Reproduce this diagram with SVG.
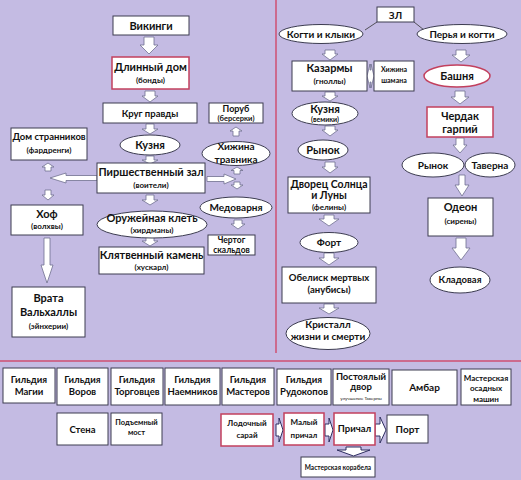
<svg xmlns="http://www.w3.org/2000/svg" width="521" height="480" viewBox="0 0 521 480">
<style>
.n{fill:#fff;stroke:#3c3c50;stroke-width:1}
.r{fill:#fff;stroke:#c2405e;stroke-width:1.5}
.a{fill:#fff;stroke:#70708f;stroke-width:0.8}
.d{fill:#fff;stroke:#2e2e60;stroke-width:1}
.div{stroke:#cf4f72;stroke-width:1.5;fill:none}
.ln{stroke:#333;stroke-width:0.8;fill:none}
text{font-family:Lato,"Open Sans","DejaVu Sans",sans-serif;font-weight:bold;fill:#111;text-anchor:middle}
.t11{font-size:11px}.t10{font-size:10px}.t9{font-size:9.5px}.t8{font-size:8px}.t7{font-size:7px}
</style>
<rect width="521" height="480" fill="#c4bbe3"/>
<g id="dividers">
<line class="div" x1="276" y1="0" x2="276" y2="353"/>
<line class="div" x1="0" y1="361" x2="521" y2="361"/>
</g>
<g id="connectors">
<polygon class="a" points="144,37 154,37 154,45 158,45 149,54 140,45 144,45"/>
<polygon class="a" points="145,91 155,91 155,96 158,96 150,102 142,96 145,96"/>
<polygon class="a" points="146,124 154,124 154,129 158,129 150,134 142,129 146,129"/>
<polygon class="a" points="146,156 154,156 154,160 158,160 150,164 142,160 146,160"/>
<polygon class="a" points="146,195 154,195 154,200 158,200 150,205 142,200 146,200"/>
<polygon class="a" points="146,237 154,237 154,241 158,241 150,246 142,241 146,241"/>
<polygon class="a" points="48,163 54,167 51,167 51,171 45,171 45,167 42,167"/>
<polygon class="a" points="45,190 51,190 51,195 54,195 48,200 42,195 45,195"/>
<polygon class="a" points="44,238 50,238 50,265 53,265 47,283 41,265 44,265"/>
<polygon class="a" points="97,175.5 66,175.5 66,173 50,178 66,183 66,180.5 97,180.5"/>
<polygon class="a" points="236,127 242,131 239,131 239,136 233,136 233,131 230,131"/>
<polygon class="a" points="237,167 243,170.5 240,170.5 240,174 234,174 234,170.5 231,170.5"/>
<polygon class="a" points="207,176.5 224,176.5 224,174 236,179 224,184 224,181.5 207,181.5"/>
<polygon class="a" points="234,182 240,182 240,185 243,185 237,189 231,185 234,185"/>
<polygon class="a" points="234,220 242,220 242,224 245,224 238,229 231,224 234,224"/>
<polygon class="a" points="325,50 335,50 335,54 338,54 330,60 322,54 325,54"/>
<polygon class="a" points="325,92 335,92 335,96 338,96 330,101 322,96 325,96"/>
<polygon class="a" points="325,126 335,126 335,130 338,130 330,136 322,130 325,130"/>
<polygon class="a" points="325,162 335,162 335,167 338,167 330,173 322,167 325,167"/>
<polygon class="a" points="324,215 334,215 334,219 339,219 329,226 319,219 324,219"/>
<polygon class="a" points="324,253 334,253 334,258 339,258 329,265 319,258 324,258"/>
<polygon class="a" points="324,304 334,304 334,308 339,308 329,314 319,308 324,308"/>
<polygon class="a" points="456,50 466,50 466,55 470,55 461,62 452,55 456,55"/>
<polygon class="a" points="455,91 465,91 465,97 469,97 460,104 451,97 455,97"/>
<polygon class="a" points="456,138 464,138 464,145 467,145 460,153 453,145 456,145"/>
<polygon class="a" points="459,175 465,175 465,185 469,185 462,196 455,185 459,185"/>
<polygon class="a" points="456,238 466,238 466,248 470,248 461,260 452,248 456,248"/>
<line class="ln" x1="377" y1="22" x2="365" y2="30"/>
<line class="ln" x1="414" y1="22" x2="424" y2="30"/>
<polygon class="a" points="367,76 370,64 370,70 371,70 371,64 374,76 371,88 371,82 370,82 370,88"/>
<polygon class="d" points="276,424 279,424 279,418 283,430 279,442 279,436 276,436"/>
<polygon class="d" points="325,424 329,424 329,418 333,430 329,442 329,436 325,436"/>
<polygon class="d" points="375,424 380,424 380,417 386,430 380,443 380,436 375,436"/>
<polygon class="d" points="346,447 361,447 361,450 370,450 353.5,456 337,450 346,450"/>
</g>
<g id="vikingi"><rect class="n" x="113" y="16" width="76" height="19"/><text class="t11" x="151" y="29.5">Викинги</text></g>
<g id="dlinnyi-dom"><rect class="r" x="112" y="57" width="77" height="32"/><text class="t11" x="150.5" y="71">Длинный дом</text><text class="t8" x="150.5" y="83">(бонды)</text></g>
<g id="krug-pravdy"><rect class="n" x="103" y="103" width="94" height="20"/><text class="t9" x="150" y="116.5">Круг правды</text></g>
<g id="kuznya-l"><ellipse class="n" cx="150" cy="145" rx="30" ry="10"/><text class="t11" x="150" y="149">Кузня</text></g>
<g id="pirshestvennyi"><rect class="n" x="97" y="163" width="108" height="30"/><text class="t11" x="151" y="175.5">Пиршественный зал</text><text class="t8" x="151" y="188">(воители)</text></g>
<g id="oruzheinaya"><ellipse class="n" cx="152" cy="224.5" rx="55" ry="13.5"/><text class="t11" x="152" y="222">Оружейная клеть</text><text class="t8" x="152" y="232.5">(хирдманы)</text></g>
<g id="klyatvennyi"><rect class="n" x="99" y="247" width="105" height="27"/><text class="t11" x="151.5" y="259">Клятвенный камень</text><text class="t8" x="151.5" y="270">(хускарл)</text></g>
<g id="dom-strannikov"><rect class="n" x="11" y="128" width="76" height="32"/><text class="t9" x="49" y="140">Дом странников</text><text class="t8" x="49" y="153">(фардренги)</text></g>
<g id="hof"><rect class="n" x="11" y="205" width="72" height="30"/><text class="t11" x="47" y="218">Хоф</text><text class="t8" x="47" y="229">(волхвы)</text></g>
<g id="vrata"><rect class="n" x="12" y="287" width="73" height="50"/><text class="t11" x="48.5" y="301.5">Врата</text><text class="t11" x="48.5" y="315.5">Вальхаллы</text><text class="t8" x="48.5" y="329">(эйнхерии)</text></g>
<g id="porub"><rect class="n" x="209" y="103" width="54" height="20"/><text x="236" y="111.5" style="font-size:9px">Поруб</text><text x="236" y="120.5" style="font-size:7.5px">(берсерки)</text></g>
<g id="hizhina-travnika"><ellipse class="n" cx="236" cy="153.5" rx="34" ry="12"/><text class="t10" x="236" y="149.5">Хижина</text><text class="t10" x="236" y="162.5">травника</text></g>
<g id="medovarnya"><ellipse class="n" cx="236" cy="207.5" rx="36" ry="10.5"/><text class="t10" x="236" y="211">Медоварня</text></g>
<g id="chertog"><rect class="n" x="208" y="235" width="47" height="20"/><text x="231.5" y="243" style="font-size:8.5px">Чертог</text><text x="231.5" y="252.5" style="font-size:8.5px">скальдов</text></g>
<g id="zl"><rect class="n" x="377" y="7" width="37" height="15"/><text class="t10" x="395.5" y="18.5">ЗЛ</text></g>
<g id="kogti-klyki"><ellipse class="n" cx="321" cy="34" rx="42" ry="9.5"/><text class="t10" x="321" y="37.5">Когти и клыки</text></g>
<g id="perya-kogti"><ellipse class="n" cx="462" cy="34" rx="45" ry="9.5"/><text class="t10" x="462" y="37.5">Перья и когти</text></g>
<g id="kazarmy"><rect class="n" x="292" y="61" width="75" height="30"/><text class="t11" x="329.5" y="72">Казармы</text><text class="t8" x="329.5" y="84">(гноллы)</text></g>
<g id="hizhina-shamana"><rect class="n" x="374" y="61" width="40" height="30"/><text class="t7" x="394" y="72">Хижина</text><text class="t7" x="394" y="82.5">шамана</text></g>
<g id="kuznya-r"><ellipse class="n" cx="325" cy="113.5" rx="33" ry="11.5"/><text class="t11" x="325" y="112.5">Кузня</text><text class="t7" x="325" y="121.5">(вемики)</text></g>
<g id="rynok-l"><ellipse class="n" cx="323" cy="150" rx="25" ry="10"/><text class="t11" x="323" y="154">Рынок</text></g>
<g id="dvorets"><rect class="n" x="288" y="177" width="82" height="36"/><text x="329" y="188" style="font-size:10.5px">Дворец Солнца</text><text x="329" y="199" style="font-size:10.5px">и Луны</text><text class="t8" x="329" y="209.5">(фелины)</text></g>
<g id="fort"><ellipse class="n" cx="329" cy="242.5" rx="29" ry="10"/><text class="t10" x="329" y="246">Форт</text></g>
<g id="obelisk"><rect class="n" x="282" y="267" width="94" height="36"/><text class="t9" x="329" y="281">Обелиск мертвых</text><text class="t9" x="329" y="293">(анубисы)</text></g>
<g id="kristall"><ellipse class="n" cx="328" cy="333.5" rx="42" ry="16"/><text class="t10" x="328" y="327.5">Кристалл</text><text class="t10" x="328" y="339.5">жизни и смерти</text></g>
<g id="bashnya"><ellipse class="r" cx="457" cy="76" rx="33" ry="11"/><text class="t11" x="457" y="79.5">Башня</text></g>
<g id="cherdak"><rect class="r" x="427" y="107" width="66" height="30"/><text class="t11" x="460" y="120">Чердак</text><text class="t11" x="460" y="132.5">гарпий</text></g>
<g id="rynok-r"><ellipse class="n" cx="433" cy="165" rx="31" ry="12"/><text class="t10" x="433" y="168.5">Рынок</text></g>
<g id="taverna"><ellipse class="n" cx="490" cy="165" rx="25" ry="12"/><text class="t10" x="490" y="168.5">Таверна</text></g>
<g id="odeon"><rect class="n" x="428" y="198" width="65" height="38"/><text class="t11" x="460.5" y="211">Одеон</text><text class="t8" x="460.5" y="224">(сирены)</text></g>
<g id="kladovaya"><ellipse class="n" cx="460" cy="280" rx="30" ry="13"/><text class="t9" x="460" y="283">Кладовая</text></g>
<g id="g-magii"><rect class="n" x="3" y="368" width="52" height="35"/><text class="t9" x="29" y="383">Гильдия</text><text class="t9" x="29" y="394.5">Магии</text></g>
<g id="g-vorov"><rect class="n" x="57" y="368" width="51" height="37"/><text class="t9" x="82.5" y="383">Гильдия</text><text class="t9" x="82.5" y="394.5">Воров</text></g>
<g id="g-torgovtsev"><rect class="n" x="111" y="368" width="52" height="37"/><text class="t9" x="137" y="383">Гильдия</text><text class="t9" x="137" y="394.5">Торговцев</text></g>
<g id="g-naemnikov"><rect class="n" x="165" y="368" width="55" height="37"/><text class="t9" x="192.5" y="383">Гильдия</text><text class="t9" x="192.5" y="394.5">Наемников</text></g>
<g id="g-masterov"><rect class="n" x="222" y="368" width="52" height="37"/><text class="t9" x="248" y="383">Гильдия</text><text class="t9" x="248" y="394.5">Мастеров</text></g>
<g id="g-rudokopov"><rect class="n" x="277" y="369" width="54" height="36"/><text class="t9" x="304" y="383">Гильдия</text><text class="t9" x="304" y="394.5">Рудокопов</text></g>
<g id="postoyalyi"><rect class="n" x="333" y="369" width="56" height="36"/><text class="t9" x="361" y="380">Постоялый</text><text class="t9" x="361" y="389.5">двор</text><text x="361" y="400" style="font-size:4.5px;font-weight:normal">улучшение Таверны</text></g>
<g id="ambar"><rect class="n" x="392" y="370" width="65" height="35"/><text class="t10" x="424.5" y="390.5">Амбар</text></g>
<g id="masterskaya-osadnyh"><rect class="n" x="461" y="369" width="50" height="36"/><text class="t8" x="486" y="380.5">Мастерская</text><text class="t8" x="486" y="391">осадных</text><text class="t8" x="486" y="401.5">машин</text></g>
<g id="stena"><rect class="n" x="57" y="413" width="51" height="32"/><text class="t9" x="82.5" y="432.5">Стена</text></g>
<g id="podemnyi-most"><rect class="n" x="111" y="413" width="51" height="32"/><text x="136.5" y="424.5" style="font-size:7.5px">Подъемный</text><text x="136.5" y="435" style="font-size:7.5px">мост</text></g>
<g id="lodochnyi-sarai"><rect class="r" x="221" y="414" width="52" height="32"/><text class="t8" x="247" y="426">Лодочный</text><text class="t8" x="247" y="437.5">сарай</text></g>
<g id="malyi-prichal"><rect class="r" x="284" y="413" width="40" height="32"/><text class="t8" x="304" y="424.5">Малый</text><text class="t8" x="304" y="437.5">причал</text></g>
<g id="prichal"><rect class="r" x="334" y="413" width="41" height="32"/><text class="t9" x="354.5" y="432">Причал</text></g>
<g id="port"><rect class="n" x="387" y="415" width="41" height="28"/><text class="t10" x="407.5" y="432.5">Порт</text></g>
<g id="masterskaya-korabela"><rect class="n" x="301" y="457" width="74" height="20"/><text x="338" y="469.5" style="font-size:6.5px">Мастерская корабела</text></g>
</svg>
